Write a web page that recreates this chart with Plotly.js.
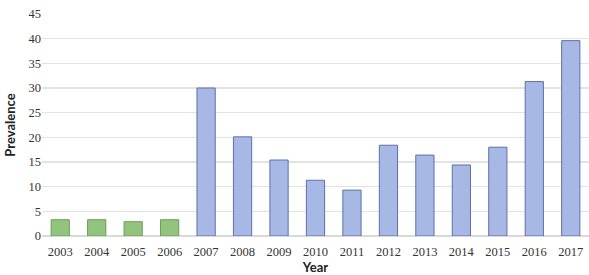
<!DOCTYPE html>
<html><head><meta charset="utf-8">
<script src="https://cdn.plot.ly/plotly-3.0.1.min.js"></script>
<style>html,body{margin:0;padding:0;background:#fff}#chart{width:589px;height:275px}</style>
</head><body><div id="chart"></div>
<script>
var years = ['2003','2004','2005','2006','2007','2008','2009','2010','2011','2012','2013','2014','2015','2016','2017'];
var prevalence = [3.3, 3.3, 2.9, 3.3, 30.0, 20.1, 15.4, 11.3, 9.3, 18.4, 16.4, 14.4, 18.0, 31.3, 39.6];
var group = ['a','a','a','a','b','b','b','b','b','b','b','b','b','b','b'];
var fillColors = {a:'#93c47d', b:'#a8b8e4'};
var lineColors = {a:'#6e9d58', b:'#5d70aa'};
var yTicks = [0,5,10,15,20,25,30,35,40,45];

Plotly.newPlot('chart', [{
  type:'bar', x: years, y: prevalence,
  marker:{color: group.map(function(g){return fillColors[g];}),
          line:{color: group.map(function(g){return lineColors[g];}), width:1}},
  hoverinfo:'none'
}], {
  width:589, height:275,
  margin:{l:42, r:0, t:14, b:39},
  bargap:0.5,
  showlegend:false,
  paper_bgcolor:'#fff', plot_bgcolor:'#fff',
  xaxis:{type:'category', tickfont:{family:'Liberation Serif', size:12.5, color:'#333'},
         ticks:'outside', ticklen:4, tickcolor:'rgba(0,0,0,0)', showline:false, showgrid:false,
         title:{text:'<b>Year</b>', font:{family:'Lato', size:13, color:'#222'}, standoff:8}},
  yaxis:{range:[0,45], tickvals:yTicks, ticktext:yTicks.map(String),
         tickfont:{family:'Liberation Serif', size:12.5, color:'#333'},
         gridcolor:'#e3e3e3', gridwidth:1.5, zeroline:true, zerolinecolor:'#d9d9d9', zerolinewidth:1.5,
         showline:false, ticks:'', ticklen:0,
         title:{text:'<b>Prevalence</b>', font:{family:'Lato', size:13, color:'#222'}, standoff:9}}
}, {staticPlot:true, displayModeBar:false});
</script></body></html>
